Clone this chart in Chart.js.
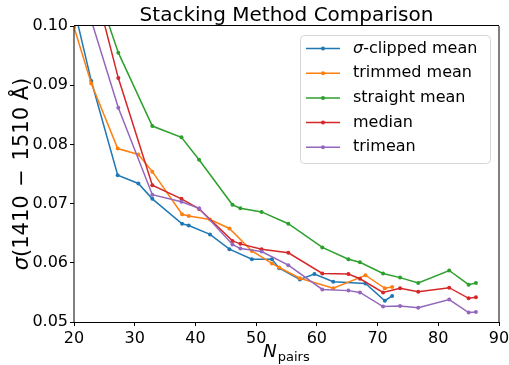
<!DOCTYPE html>
<html>
<head>
<meta charset="utf-8">
<script src="https://cdn.jsdelivr.net/npm/chart.js@4.4.1/dist/chart.umd.min.js"></script>
<style>
  html, body { margin: 0; padding: 0; background: #fff; }
  canvas { display: block; }
</style>
</head>
<body>
<canvas id="stack" width="509" height="365"></canvas>
<script>
const FONT = '"DejaVu Sans", sans-serif';

// N_pairs sampling (blue/orange share one grid, the others another)
const nPairsA = [20, 22.85, 27.2, 30.6, 32.9, 37.8, 38.9, 42.4, 45.6, 49.3, 52.6, 53.8, 57.2, 59.6, 62.7, 68.0, 71.2, 72.4];
const nPairsB = [22.8, 27.3, 32.9, 37.7, 40.6, 46.1, 47.4, 50.9, 55.3, 60.9, 65.2, 67.1, 70.9, 73.7, 76.7, 81.8, 85.0, 86.2];

const sigmaClipped = [0.1031, 0.0907, 0.0748, 0.0734, 0.0708, 0.0666, 0.0663, 0.0648, 0.0623, 0.0606, 0.0606, 0.0591, 0.0572, 0.0581, 0.0568, 0.0565, 0.0536, 0.0544];
const trimmedMean  = [0.0998, 0.0903, 0.0793, 0.0783, 0.0754, 0.0682, 0.0679, 0.0673, 0.0658, 0.0620, 0.0599, 0.0592, 0.0574, null, 0.0557, 0.0579, 0.0557, 0.0559];
const straightMean = [0.1090, 0.0955, 0.0831, 0.0812, 0.0774, 0.0698, 0.0692, 0.0686, 0.0666, 0.0626, 0.0606, 0.0601, 0.0582, 0.0575, 0.0566, 0.0587, 0.0563, 0.0566];
const medianVals   = [0.1091, 0.0912, 0.0731, 0.0708, 0.0691, 0.0637, 0.0632, 0.0623, 0.0617, 0.0582, 0.0581, 0.0573, 0.0550, 0.0557, 0.0551, 0.0558, 0.0540, 0.0542];
const trimeanVals  = [0.1011, 0.0862, 0.0715, 0.0703, 0.0692, 0.0631, 0.0624, 0.0619, 0.0596, 0.0555, 0.0553, 0.0550, 0.0526, 0.0527, 0.0524, 0.0538, 0.0516, 0.0517];

const seriesLabels = ["σ-clipped mean", "trimmed mean", "straight mean", "median", "trimean"];
const seriesColors = ["#1f77b4", "#ff7f0e", "#2ca02c", "#d62728", "#9467bd"];

const xTickValues = [20, 30, 40, 50, 60, 70, 80, 90];
const yTickValues = [0.05, 0.06, 0.07, 0.08, 0.09, 0.10];

const TITLE = "Stacking Method Comparison";

function toPoints(xs, ys) {
  return xs.map((x, i) => ({ x: x, y: ys[i] }));
}

const seriesData = [
  toPoints(nPairsA, sigmaClipped),
  toPoints(nPairsA, trimmedMean),
  toPoints(nPairsB, straightMean),
  toPoints(nPairsB, medianVals),
  toPoints(nPairsB, trimeanVals),
];

// draws a run of {text, italic, size, dy, gap} pieces starting at x
function drawPieces(ctx, pieces, x, y) {
  let cx = x;
  for (const p of pieces) {
    ctx.font = `${p.italic ? "italic " : ""}${p.size}px ${FONT}`;
    ctx.fillText(p.text, cx, y + (p.dy || 0));
    cx += ctx.measureText(p.text).width + (p.gap || 0);
  }
}
function piecesWidth(ctx, pieces) {
  let w = 0;
  for (const p of pieces) {
    ctx.font = `${p.italic ? "italic " : ""}${p.size}px ${FONT}`;
    w += ctx.measureText(p.text).width + (p.gap || 0);
  }
  return w;
}

const decorPlugin = {
  id: "stackDecor",
  afterDraw(chart) {
    const { ctx, chartArea: a } = chart;
    ctx.save();

    // axes frame
    ctx.strokeStyle = "#000";
    ctx.lineWidth = 1;
    ctx.beginPath();
    ctx.moveTo(a.left, a.top - 0.5);
    ctx.lineTo(a.right, a.top - 0.5);
    ctx.moveTo(a.left, a.bottom + 0.5);
    ctx.lineTo(a.right, a.bottom + 0.5);
    ctx.moveTo(a.left, a.top);
    ctx.lineTo(a.left, a.bottom);
    ctx.moveTo(a.right, a.top);
    ctx.lineTo(a.right, a.bottom);
    ctx.stroke();

    ctx.fillStyle = "#000";
    ctx.textAlign = "left";
    ctx.textBaseline = "alphabetic";

    // title
    ctx.font = `20px ${FONT}`;
    ctx.textAlign = "center";
    ctx.fillText(TITLE, (a.left + a.right) / 2, 21);
    ctx.textAlign = "left";

    // x label: N with "pairs" subscript
    const xl = [
      { text: "N", italic: true, size: 18, gap: 1 },
      { text: "pairs", size: 13, dy: 4 },
    ];
    const xw = piecesWidth(ctx, xl);
    drawPieces(ctx, xl, (a.left + a.right) / 2 - xw / 2, 357);

    // y label, rotated
    const yl = [
      { text: "σ", italic: true, size: 21 },
      { text: "(1410", size: 21, gap: 4 },
      { text: "−", size: 21, gap: 4 },
      { text: "1510 Å)", size: 21 },
    ];
    const yw = piecesWidth(ctx, yl);
    ctx.save();
    ctx.translate(28, (a.top + a.bottom) / 2);
    ctx.rotate(-Math.PI / 2);
    ctx.font = `21px ${FONT}`;
    const spaceW = ctx.measureText(" ").width;
    yl[1].gap = spaceW + 2;
    yl[2].gap = spaceW + 2;
    drawPieces(ctx, yl, -(yw + 2 * spaceW + 4 - 8) / 2, 0);
    ctx.restore();

    // legend
    const bx = 300, by = 35, bw = 190, bh = 128;
    ctx.beginPath();
    ctx.roundRect(bx + 0.5, by + 0.5, bw, bh, 4);
    ctx.fillStyle = "rgba(255,255,255,0.8)";
    ctx.fill();
    ctx.strokeStyle = "#d6d6d6";
    ctx.lineWidth = 1;
    ctx.stroke();

    ctx.textBaseline = "middle";
    chart.data.datasets.forEach((ds, i) => {
      const ry = 48.5 + i * 24.7;
      ctx.strokeStyle = ds.borderColor;
      ctx.lineWidth = 1.5;
      ctx.beginPath();
      ctx.moveTo(306, ry);
      ctx.lineTo(340, ry);
      ctx.stroke();
      ctx.fillStyle = ds.borderColor;
      ctx.beginPath();
      ctx.arc(323, ry, 2, 0, Math.PI * 2);
      ctx.fill();

      ctx.fillStyle = "#000";
      const lab = ds.label;
      const parts = lab.startsWith("σ")
        ? [{ text: "σ", italic: true, size: 16 }, { text: lab.slice(1), size: 16 }]
        : [{ text: lab, size: 16 }];
      drawPieces(ctx, parts, 353, ry);
    });

    ctx.restore();
  },
};

new Chart(document.getElementById("stack"), {
  type: "line",
  data: {
    datasets: seriesData.map((pts, i) => ({
      label: seriesLabels[i],
      data: pts,
      borderColor: seriesColors[i],
      backgroundColor: seriesColors[i],
      borderWidth: 1.5,
      pointRadius: 2,
      pointBorderWidth: 0,
      pointHoverRadius: 2,
      spanGaps: true,
      tension: 0,
      order: seriesLabels.length - i,
    })),
  },
  options: {
    responsive: false,
    animation: false,
    devicePixelRatio: 1,
    layout: { padding: { left: 0, right: 10, top: 26, bottom: 0 } },
    plugins: {
      legend: { display: false },
      title: { display: false },
      tooltip: { enabled: false },
    },
    scales: {
      x: {
        type: "linear",
        min: 20,
        max: 90,
        afterBuildTicks: (s) => { s.ticks = xTickValues.map((v) => ({ value: v })); },
        afterFit: (s) => { s.height = 43; s.paddingLeft = 0; s.paddingRight = 0; },
        border: { display: false },
        grid: { drawOnChartArea: false, drawTicks: true, tickLength: 4, color: "#000" },
        ticks: {
          color: "#000",
          padding: 3,
          maxRotation: 0,
          font: { family: FONT, size: 16 },
          callback: (v) => String(v),
        },
      },
      y: {
        type: "linear",
        min: 0.05,
        max: 0.10,
        afterBuildTicks: (s) => { s.ticks = yTickValues.map((v) => ({ value: v })); },
        afterFit: (s) => { s.width = 74; s.paddingTop = 0; s.paddingBottom = 0; },
        border: { display: false },
        grid: { drawOnChartArea: false, drawTicks: true, tickLength: 4, color: "#000" },
        ticks: {
          color: "#000",
          padding: 2,
          font: { family: FONT, size: 16 },
          callback: (v) => Number(v).toFixed(2),
        },
      },
    },
  },
  plugins: [decorPlugin],
});
</script>
</body>
</html>
